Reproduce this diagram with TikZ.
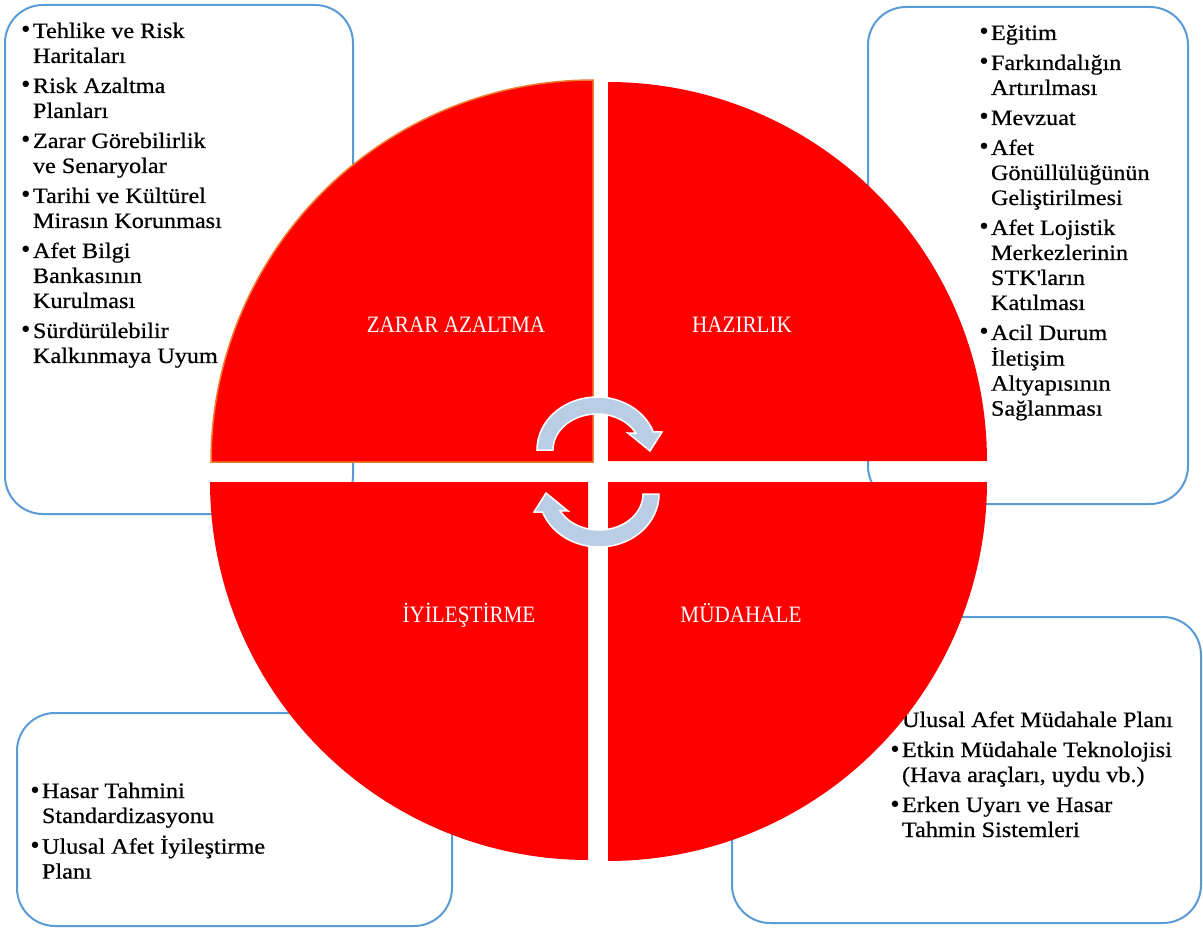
\documentclass[tikz,border=0pt]{standalone}
\usepackage{fontspec}
\setmainfont{Liberation Serif}[FakeStretch=1.1, FakeBold=0.6]
\newfontfamily\lblfont{Liberation Serif}[FakeStretch=0.9]
\newfontfamily\bulfont{DejaVu Sans}
\definecolor{qred}{HTML}{FF0000}
\definecolor{qorange}{HTML}{ED7D31}
\definecolor{boxblue}{HTML}{5B9BD5}
\definecolor{arrowblue}{HTML}{B9CDE5}
\newcommand\bitem[1]{\makebox[11pt][l]{\hspace*{-2.5pt}\bulfont\fontsize{22}{25}\selectfont •}#1}
\newcommand\bcont[1]{\hspace*{11pt}#1}
\newcommand\blist[1]{\begin{tabular}[t]{@{}l@{}}#1\end{tabular}}
\tikzset{
  infobox/.style={draw=boxblue, line width=2pt, rounded corners=38pt},
  listtext/.style={anchor=base west, inner sep=0pt, outer sep=0pt, text=black,
    font=\fontsize{22}{25}\selectfont},
  quadrant/.style={fill=qred},
  qlabel/.style={anchor=base, inner sep=0pt, text=white,
    font=\lblfont\fontsize{23.5}{28}\selectfont},
  cyclearrow/.style={fill=arrowblue, draw=white, line width=1.5pt, line join=miter}
}
\begin{document}
\begin{tikzpicture}[x=1pt, y=-1pt]
\useasboundingbox (0,0) rectangle (1203,928);
\fill[white] (0,0) rectangle (1203,928);

% boxes
\draw[infobox] (5,5) rectangle (353,514);
\draw[infobox] (868,7) rectangle (1188,504);
\draw[infobox] (732,617) rectangle (1201,923);
\draw[infobox] (17,713) rectangle (452,926);

% lists
\node[listtext] (tl) at (22,38) {\blist{%
\bitem{Tehlike ve Risk}\\ \bcont{Haritaları}\\[5pt]
\bitem{Risk Azaltma}\\ \bcont{Planları}\\[5pt]
\bitem{Zarar Görebilirlik}\\ \bcont{ve Senaryolar}\\[5pt]
\bitem{Tarihi ve Kültürel}\\ \bcont{Mirasın Korunması}\\[5pt]
\bitem{Afet Bilgi}\\ \bcont{Bankasının}\\ \bcont{Kurulması}\\[5pt]
\bitem{Sürdürülebilir}\\ \bcont{Kalkınmaya Uyum}}};

\node[listtext] (tr) at (980,40) {\blist{%
\bitem{Eğitim}\\[5pt]
\bitem{Farkındalığın}\\ \bcont{Artırılması}\\[5pt]
\bitem{Mevzuat}\\[5pt]
\bitem{Afet}\\ \bcont{Gönüllülüğünün}\\ \bcont{Geliştirilmesi}\\[5pt]
\bitem{Afet Lojistik}\\ \bcont{Merkezlerinin}\\ \bcont{STK\textquotesingle ların}\\ \bcont{Katılması}\\[5pt]
\bitem{Acil Durum}\\ \bcont{İletişim}\\ \bcont{Altyapısının}\\ \bcont{Sağlanması}}};

\node[listtext] (br) at (891,727) {\blist{%
\bitem{Ulusal Afet Müdahale Planı}\\[5pt]
\bitem{Etkin Müdahale Teknolojisi}\\ \bcont{(Hava araçları, uydu vb.)}\\[5pt]
\bitem{Erken Uyarı ve Hasar}\\ \bcont{Tahmin Sistemleri}}};

\node[listtext] (bl) at (31,798) {\blist{%
\bitem{Hasar Tahmini}\\ \bcont{Standardizasyonu}\\[5pt]
\bitem{Ulusal Afet İyileştirme}\\ \bcont{Planı}}};

% quadrants
\filldraw[quadrant, draw=qorange, line width=1.5pt]
  (593,462) -- plot[domain=180:90, samples=120] ({593+382*cos(\x)},{462-382*sin(\x)}) -- cycle;
\fill[quadrant]
  (608,461) -- plot[domain=90:0, samples=120] ({608+379*cos(\x)},{461-379*sin(\x)}) -- cycle;
\fill[quadrant]
  (588,482) -- plot[domain=180:270, samples=120] ({588+378*cos(\x)},{482-378*sin(\x)}) -- cycle;
\fill[quadrant]
  (608,482) -- plot[domain=270:360, samples=120] ({608+379*cos(\x)},{482-379*sin(\x)}) -- cycle;

% quadrant labels
\node[qlabel] (za) at (456,333) {ZARAR AZALTMA};
\node[qlabel] (hz) at (742,333) {HAZIRLIK};
\node[qlabel] (iy) at (469,622) {İYİLEŞTİRME};
\node[qlabel] (md) at (741,622) {MÜDAHALE};

% cycle arrows
\path[cyclearrow]
  plot[domain=180:20, samples=60] ({597+60*cos(\x)},{450-53*sin(\x)})
  -- (662,432) -- (650,451) -- (628,433)
  -- plot[domain=28:180, samples=60] ({597+44*cos(\x)},{450-36*sin(\x)}) -- cycle;
\path[cyclearrow, rotate around={180:(598,472)}]
  plot[domain=180:20, samples=60] ({597+60*cos(\x)},{450-53*sin(\x)})
  -- (662,432) -- (650,451) -- (628,433)
  -- plot[domain=28:180, samples=60] ({597+44*cos(\x)},{450-36*sin(\x)}) -- cycle;
\end{tikzpicture}
\end{document}
